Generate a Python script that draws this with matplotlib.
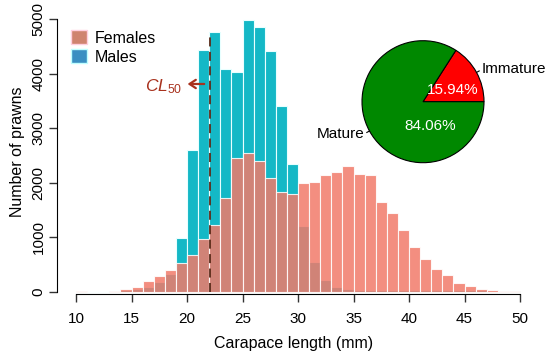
import numpy as np
import matplotlib
matplotlib.use('Agg')
import matplotlib.pyplot as plt
from matplotlib.patches import Patch

plt.rcParams['font.family'] = ['Liberation Sans', 'DejaVu Sans']
plt.rcParams['mathtext.fontset'] = 'custom'
plt.rcParams['mathtext.it'] = 'Liberation Sans:italic'
plt.rcParams['mathtext.rm'] = 'Liberation Sans'

# 1 mm bins from 10 to 50
bin_left = np.arange(10, 50)
females = [10, 5, 8, 25, 60, 100, 200, 290, 400, 540,
           680, 965, 1230, 1730, 2450, 2550, 2400, 2080, 1830, 1790,
           1990, 2020, 2140, 2190, 2310, 2170, 2140, 1640, 1440, 1130,
           820, 600, 415, 310, 160, 110, 60, 30, 12, 20]
males = [0, 0, 0, 20, 40, 60, 100, 180, 330, 980,
         2600, 4440, 4770, 4085, 4035, 4980, 4860, 4420, 3410, 2345,
         1200, 555, 220, 100, 50, 40, 40, 40, 40, 40,
         40, 40, 40, 40, 40, 40, 40, 10, 10, 10]
cl50 = 22.07

pie_labels = ['Immature', 'Mature']
pie_pct = [15.94, 84.06]

fig = plt.figure(figsize=(5.5, 3.57), dpi=100)
W, H = 550, 357
# axes box in pixels: x 56.7..530, y 10..294
ax = fig.add_axes([56.7 / W, (H - 294) / H, (530 - 56.7) / W, 284 / H])
ax.set_xlim(8.26, 50.9)
ax.set_ylim(-36.6, 5165)

ax.bar(bin_left, males, width=1, align='edge', color='#14B8C6',
       edgecolor='#E8FFFF', linewidth=0.8, zorder=2)
ax.bar(bin_left, females, width=1, align='edge', color='#F27A6A', alpha=0.85,
       edgecolor='white', linewidth=0.8, zorder=3)

ax.plot([cl50, cl50], [0, 4770], ls=(0, (5, 3)), color='#5a2a18', lw=1.3, zorder=4)
ax.annotate('', xy=(19.8, 3810), xytext=(21.8, 3810),
            arrowprops=dict(arrowstyle='->,head_length=0.45,head_width=0.3',
                            color='#A8321E', lw=1.6))
ax.text(19.6, 3770, r'$\mathit{CL}_{50}$', color='#A8321E', fontsize=12.5,
        ha='right', va='center')

for s in ['top', 'right']:
    ax.spines[s].set_visible(False)
ax.spines['left'].set_bounds(0, 5000)
ax.spines['bottom'].set_bounds(10, 50)
ax.set_xticks(range(10, 51, 5))
ax.set_yticks(range(0, 5001, 1000))
ax.tick_params(axis='both', length=6, width=1, labelsize=11, color='#333333')
ax.tick_params(axis='y', labelrotation=90, pad=2)
ax.tick_params(axis='x', pad=7)
for lab in ax.get_yticklabels():
    lab.set_va('center')
ax.set_xlabel('Carapace length (mm)', fontsize=11.5, labelpad=7)
ax.set_ylabel('Number of prawns', fontsize=11.5, labelpad=5)

handles = [Patch(facecolor='#CF8470', edgecolor='#FFD0E0'),
           Patch(facecolor='#3A8FC2', edgecolor='#C0FFFF')]
ax.legend(handles, ['Females', 'Males'], loc='upper left',
          bbox_to_anchor=(60 / W, 1 - 19 / H), bbox_transform=fig.transFigure,
          frameon=False, fontsize=11.5, handlelength=1.0, handleheight=1.0,
          handletextpad=0.5, labelspacing=0.2, borderpad=0.2)

# inset pie
cx, cy, r = 423, 101.7, 61
pax = fig.add_axes([(cx - r) / W, (H - cy - r) / H, 2 * r / W, 2 * r / H])
pax.pie(pie_pct, colors=['#FF0000', '#008800'], startangle=0, counterclock=True,
        wedgeprops=dict(edgecolor='black', linewidth=0.8))
pax.set_xlim(-1, 1)
pax.set_ylim(-1, 1)
pax.set_aspect('equal')
pax.axis('off')

start = 0
for lab, p in zip(pie_labels, pie_pct):
    mid = np.deg2rad(start + p * 3.6 / 2)
    start += p * 3.6
    c, s = np.cos(mid), np.sin(mid)
    pax.plot([c, 1.05 * c], [s, 1.05 * s], color='black', lw=0.8, clip_on=False)
    pax.text(1.1 * c, 1.1 * s, lab, fontsize=11, ha='left' if c > 0 else 'right',
             va='center')

pax.text(0.48, 0.19, '15.94%', color='white', fontsize=11, ha='center', va='center')
pax.text(0.11, -0.40, '84.06%', color='white', fontsize=11, ha='center', va='center')

fig.savefig('out.png', dpi=100)
